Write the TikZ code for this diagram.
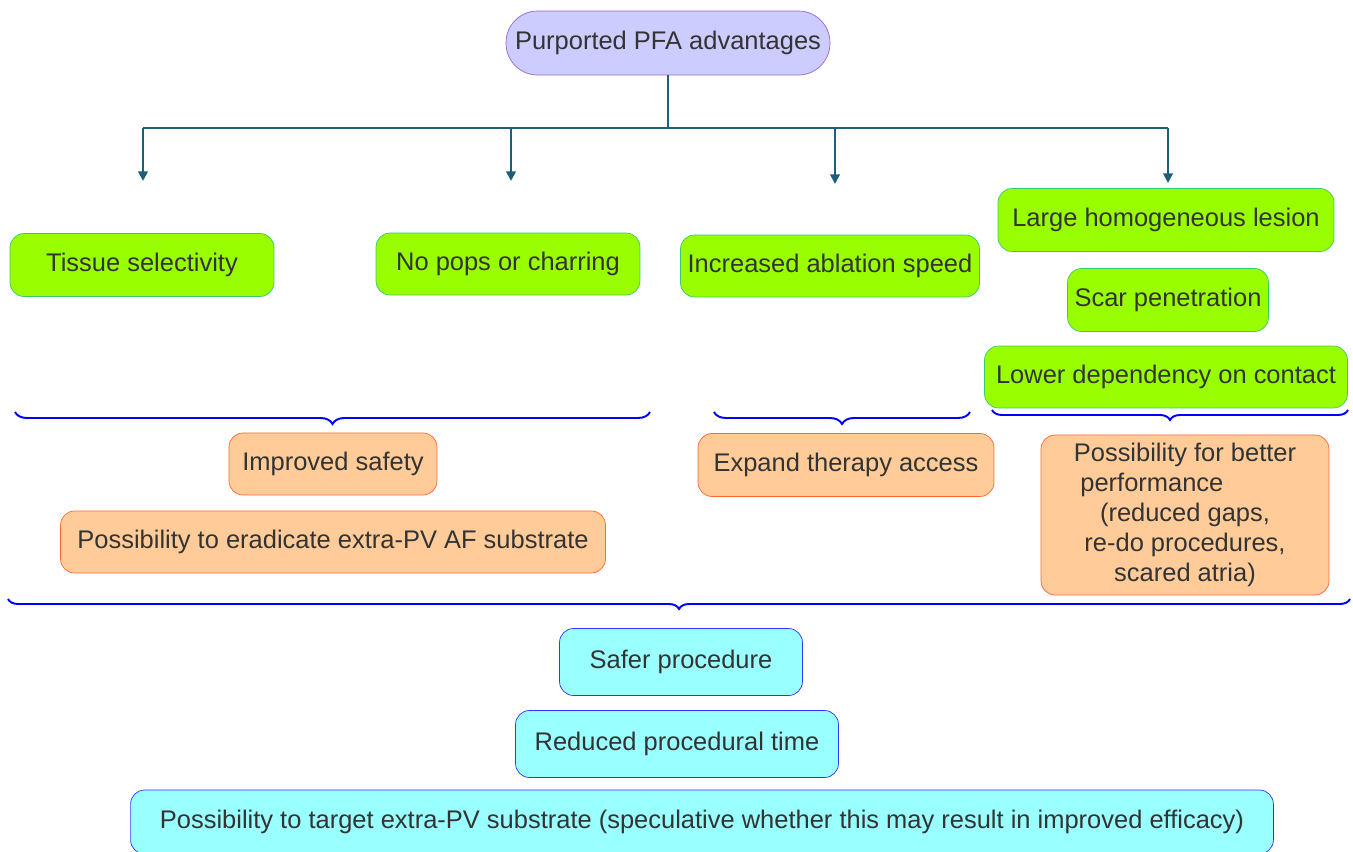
\documentclass[tikz,border=0pt]{standalone}
\usepackage{fontspec}
\setmainfont{Liberation Sans}
\usetikzlibrary{arrows.meta, positioning, decorations.pathreplacing, calc}
\definecolor{ink}{RGB}{51,51,51}
\definecolor{rootfill}{RGB}{204,204,255}
\definecolor{rootline}{RGB}{153,102,204}
\definecolor{causefill}{RGB}{153,255,0}
\definecolor{causeline}{RGB}{51,204,102}
\definecolor{gainfill}{RGB}{255,204,153}
\definecolor{gainline}{RGB}{255,102,51}
\definecolor{resultfill}{RGB}{153,255,255}
\definecolor{resultline}{RGB}{51,51,255}
\definecolor{linkcol}{RGB}{31,94,122}
\definecolor{bracecol}{RGB}{0,0,255}
\tikzset{
  box/.style={rectangle, rounded corners=0.28cm, thin, inner sep=0pt, align=center,
              text=ink, font=\fontsize{14.5}{17}\selectfont},
  root/.style={box, rounded corners=0.63cm, draw=rootline, fill=rootfill},
  cause/.style={box, draw=causeline, fill=causefill},
  gain/.style={box, draw=gainline, fill=gainfill},
  result/.style={box, draw=resultline, fill=resultfill},
  link/.style={line width=1.1pt, color=linkcol},
  arrow/.style={link, -{Triangle[length=5.5pt, width=5.5pt]}},
  bracket/.style={decorate, decoration={brace, mirror, amplitude=0.24cm}, line width=1.1pt, color=bracecol},
}
\begin{document}
\begin{tikzpicture}[x=0.02cm, y=-0.02cm]
  \useasboundingbox (0,0) rectangle (1353,852);
  \node[root, minimum width=6.48cm, minimum height=1.28cm] (pfa) at (668,43) {Purported PFA advantages};

  \node[cause, minimum width=5.28cm, minimum height=1.26cm] (tissue) at (142,265) {Tissue selectivity};
  \node[cause, minimum width=5.28cm, minimum height=1.24cm] (pops) at (508,264) {No pops or charring};
  \node[cause, minimum width=5.98cm, minimum height=1.24cm] (speed) at (830,266) {Increased ablation speed};
  \node[cause, minimum width=6.72cm, minimum height=1.26cm] (lesion) at (1166,220) {Large homogeneous lesion};
  \node[cause, minimum width=4.02cm, minimum height=1.26cm] (scar) at (1168,300) {Scar penetration};
  \node[cause, minimum width=7.26cm, minimum height=1.24cm] (contact) at (1166,377) {Lower dependency on contact};

  \node[gain, minimum width=4.16cm, minimum height=1.24cm] (safety) at (333,464) {Improved safety};
  \node[gain, minimum width=10.9cm, minimum height=1.24cm] (eradicate) at (333,542) {Possibility to eradicate extra-PV AF substrate};
  \node[gain, minimum width=5.92cm, minimum height=1.26cm] (access) at (846,465) {Expand therapy access};
  \node[gain, minimum width=5.76cm, minimum height=3.2cm] (perf) at (1185,515)
    {Possibility for better\\performance\rule{2.6em}{0pt}\\(reduced gaps,\\re-do procedures,\\scared atria)};

  \node[result, minimum width=4.86cm, minimum height=1.34cm] (safer) at (681,662) {Safer procedure};
  \node[result, minimum width=6.46cm, minimum height=1.34cm] (time) at (677,744) {Reduced procedural time};
  \node[result, minimum width=22.86cm, minimum height=1.28cm] (target) at (702,822)
    {Possibility to target extra-PV substrate (speculative whether this may result in improved efficacy)};

  \coordinate (a1) at (143,181);
  \coordinate (a2) at (511,181);
  \coordinate (a3) at (835,184);
  \coordinate (a4) at (1168,183);
  \draw[link] (pfa.south) -- ++(0,53) coordinate (bus);
  \draw[link] (a1 |- bus) -- (a4 |- bus);
  \foreach \a in {a1,a2,a3,a4}
    \draw[arrow] (\a |- bus) -- (\a);

  \draw[bracket] (15,412) -- (650,412);
  \draw[bracket] (714,412) -- (970,412);
  \draw[bracket, decoration={amplitude=0.2cm}] (992,410) -- (1348,410);
  \draw[bracket, decoration={amplitude=0.2cm}] (8,599) -- (1350,599);
\end{tikzpicture}
\end{document}
